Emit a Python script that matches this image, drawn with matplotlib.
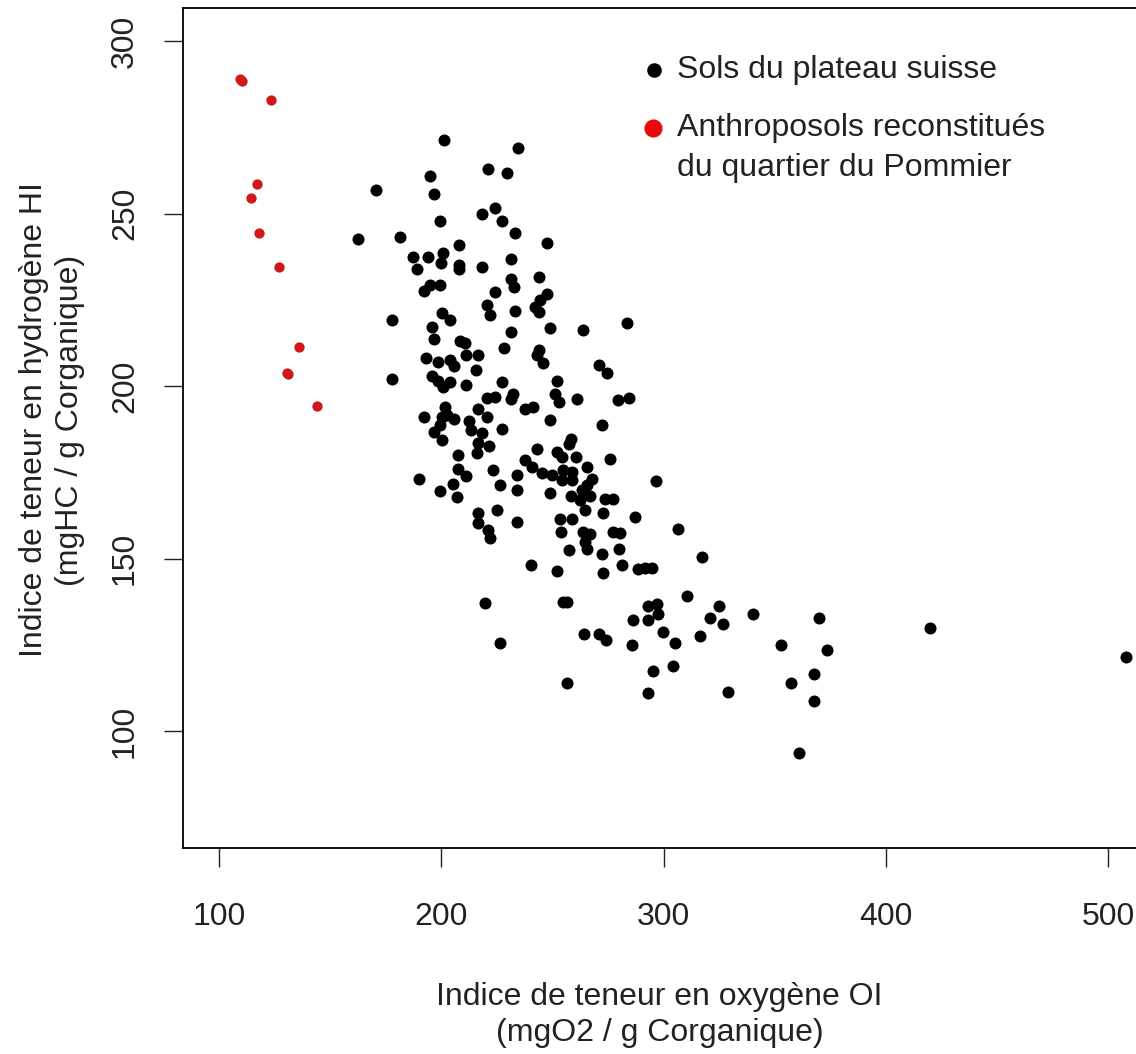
import matplotlib
matplotlib.use("Agg")
import matplotlib.pyplot as plt

plt.rcParams['font.family'] = ['Liberation Sans', 'DejaVu Sans']

# Sols du plateau suisse : indice d'oxygène OI / indice d'hydrogène HI
sols_oi = [
    201.4, 234.4, 221.1, 229.4, 194.9, 170.5, 196.9, 218.4, 224.3, 227.2,
    199.4, 233.0, 162.4, 181.3, 208.1, 187.3, 194.2, 200.6, 199.7, 208.1,
    208.1, 189.1, 218.4, 231.2, 231.2, 232.8, 224.3, 192.4, 194.9, 199.4,
    220.4, 221.9, 233.0, 200.4, 177.7, 203.9, 231.2, 195.8, 196.9, 208.4,
    210.7, 228.3, 193.1, 198.5, 203.9, 205.8, 211.1, 216.6, 215.6, 177.7,
    195.8, 198.6, 200.9, 203.9, 211.1, 227.3, 220.4, 224.2, 232.1, 231.2,
    201.7, 192.4, 200.2, 202.4, 205.7, 199.4, 216.6, 220.4, 212.6, 213.4,
    218.2, 227.3, 196.9, 200.4, 216.6, 221.5, 215.9, 207.6, 207.6, 211.1,
    223.4, 226.4, 233.9, 233.9, 190.0, 205.4, 199.4, 207.2, 225.2, 216.6,
    216.6, 233.9, 221.1, 221.9, 247.4, 243.9, 247.4, 244.4, 242.1, 244.1,
    283.4, 248.9, 263.9, 243.9, 243.2, 245.9, 270.9, 274.7, 252.2, 251.1,
    253.1, 260.9, 279.6, 284.4, 237.7, 241.4, 248.9, 272.2, 258.2, 257.6,
    242.9, 251.9, 254.2, 260.6, 275.9, 237.7, 240.7, 245.2, 249.7, 254.9,
    258.7, 265.4, 267.7, 254.2, 258.7, 265.4, 263.2, 248.9, 258.2, 262.4,
    266.9, 273.6, 277.4, 264.6, 253.4, 258.7, 272.9, 287.1, 253.7, 263.9,
    266.9, 264.6, 265.4, 277.4, 280.4, 306.6, 257.4, 272.2, 280.1, 240.4,
    252.2, 272.9, 281.2, 288.6, 291.6, 294.9, 219.7, 254.9, 256.7, 293.1,
    296.9, 297.6, 286.1, 293.1, 264.2, 271.1, 274.1, 299.9, 226.4, 285.9,
    305.1, 304.4, 295.4, 256.7, 293.1, 317.4, 310.7, 325.1, 320.9, 326.9,
    340.1, 369.9, 316.4, 352.7, 373.6, 329.1, 357.3, 367.6, 367.6, 360.9,
    419.8, 507.9, 296.4,
]
sols_hi = [
    271.3, 268.9, 262.8, 261.7, 260.9, 256.7, 255.6, 249.9, 251.7, 248.0,
    248.0, 244.4, 242.7, 243.3, 240.8, 237.5, 237.5, 238.5, 235.7, 235.1,
    233.8, 234.0, 234.6, 236.8, 231.1, 228.6, 227.2, 227.6, 229.3, 229.2,
    223.5, 220.6, 221.7, 221.1, 219.1, 219.1, 215.7, 217.0, 213.6, 213.1,
    212.5, 211.1, 208.2, 207.0, 207.5, 205.8, 208.9, 208.9, 204.6, 202.0,
    202.9, 201.4, 199.6, 201.1, 200.2, 201.1, 196.6, 196.9, 197.7, 196.3,
    194.0, 191.1, 191.1, 191.6, 190.4, 188.7, 193.4, 191.1, 189.9, 187.4,
    186.5, 187.7, 186.6, 184.3, 183.4, 182.6, 180.5, 180.0, 176.1, 173.9,
    175.6, 171.3, 174.2, 169.9, 173.0, 171.5, 169.6, 167.9, 164.1, 163.1,
    160.4, 160.7, 158.3, 155.9, 241.5, 231.7, 226.7, 224.9, 223.0, 221.5,
    218.2, 216.7, 216.2, 210.6, 208.9, 206.6, 206.1, 203.7, 201.4, 197.7,
    195.4, 196.2, 195.9, 196.6, 193.5, 194.0, 190.3, 188.7, 184.8, 183.2,
    181.9, 180.9, 179.5, 179.3, 179.0, 178.5, 176.6, 174.9, 174.2, 175.6,
    175.2, 176.6, 173.2, 172.8, 172.8, 171.3, 169.9, 169.1, 168.1, 167.0,
    168.1, 167.2, 167.2, 164.1, 161.4, 161.4, 163.1, 162.1, 157.8, 157.8,
    157.0, 154.9, 152.9, 157.8, 157.3, 158.5, 152.5, 151.3, 152.9, 148.1,
    146.4, 145.7, 148.1, 146.9, 147.3, 147.3, 137.0, 137.5, 137.5, 136.3,
    136.8, 134.0, 132.2, 132.2, 128.0, 128.1, 126.3, 128.8, 125.4, 124.9,
    125.4, 118.8, 117.5, 113.8, 111.1, 150.5, 139.1, 136.2, 132.8, 131.0,
    133.9, 132.8, 127.5, 124.9, 123.5, 111.2, 113.8, 116.4, 108.8, 93.5,
    129.8, 121.5, 172.5,
]

# Anthroposols reconstitués du quartier du Pommier
pommier_oi = [110.2, 109.6, 123.3, 117.0, 114.3, 118.0, 127.0, 136.0, 131.2, 130.6, 144.2]
pommier_hi = [288.5, 288.9, 282.9, 258.5, 254.4, 244.3, 234.5, 211.2, 203.5, 203.8, 194.2]

x_ticks = [100, 200, 300, 400, 500]
y_ticks = [100, 150, 200, 250, 300]

legend_labels = ["Sols du plateau suisse",
                 "Anthroposols reconstitués\ndu quartier du Pommier"]

W, H = 1136, 1054
fig = plt.figure(figsize=(W / 100, H / 100), dpi=100)
ax = fig.add_axes([183 / W, 1 - 848 / H, 1 - 183 / W, 840 / H])

ax.scatter(sols_oi, sols_hi, s=75, c='black', linewidths=0, zorder=3)
ax.scatter(pommier_oi, pommier_hi, s=55, c='#d01818', linewidths=0, zorder=3)

ax.set_xlim(83.8, 512.5)
ax.set_ylim(66.1, 309.6)
ax.set_xticks(x_ticks)
ax.set_yticks(y_ticks)

for side in ['left', 'top', 'bottom']:
    ax.spines[side].set_linewidth(1.3)
ax.spines['right'].set_visible(False)

ax.tick_params(axis='both', direction='out', length=14, width=1.0,
               labelsize=23, colors='#222222')
ax.tick_params(axis='x', pad=25)
ax.tick_params(axis='y', pad=17, labelrotation=90)
for lab in ax.get_yticklabels():
    lab.set_va('center')

# légende dessinée à la main (puce alignée sur la première ligne)
ax.scatter([0.4942], [0.926], s=110, c='black', linewidths=0,
           transform=ax.transAxes, clip_on=False)
ax.scatter([0.4937], [0.857], s=170, c='#e80a0a', linewidths=0,
           transform=ax.transAxes, clip_on=False)
ax.text(0.518, 0.926, legend_labels[0], transform=ax.transAxes,
        fontsize=23, va='center', ha='left', color='#222222')
ax.text(0.518, 0.8335, legend_labels[1], transform=ax.transAxes,
        fontsize=23, va='center', ha='left', color='#222222',
        linespacing=1.42)

fig.text(659.5 / W, 1 - 1015 / H,
         "Indice de teneur en oxygène OI\n(mgO2 / g Corganique)",
         ha='center', va='center', fontsize=23, color='#222222',
         linespacing=1.25)
fig.text(52 / W, 1 - 420 / H,
         "Indice de teneur en hydrogène HI\n(mgHC / g Corganique)",
         ha='center', va='center', rotation=90, fontsize=23,
         color='#222222', linespacing=1.3)

fig.savefig("out.png", dpi=100)
